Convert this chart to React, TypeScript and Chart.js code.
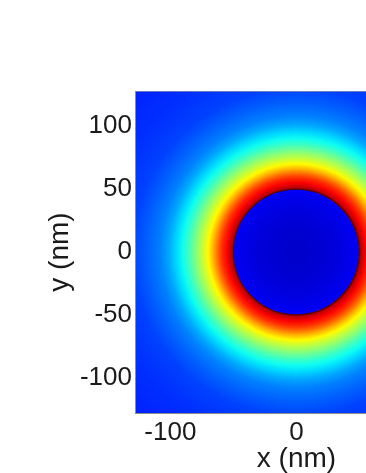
import React, { useEffect, useRef } from "react";
import { Chart, registerables } from "chart.js";

Chart.register(...registerables);

// Axis ticks (nm)
const xTickValues = [-100, 0, 100];
const yTickValues = [-100, -50, 0, 50, 100];
const axisMin = -128;
const axisMax = 128;

// Particle radius (nm)
const particleRadius = 50;

// Radial field profile outside the particle: radius (nm) -> normalized level (jet colormap)
const outerRadii = [50, 52, 55, 59, 63, 66, 70, 75, 80, 85, 90, 95, 101, 108, 118, 130, 150, 185];
const outerLevels = [0.97, 0.93, 0.88, 0.83, 0.76, 0.7, 0.63, 0.56, 0.5, 0.44, 0.39, 0.34, 0.29, 0.25, 0.22, 0.19, 0.172, 0.155];

// Radial field profile inside the particle
const innerRadii = [0, 10, 20, 30, 40, 46, 50];
const innerLevels = [0.075, 0.077, 0.082, 0.09, 0.1, 0.11, 0.125];

const FONT = "'Liberation Sans', Arial, sans-serif";
const TEXT = "#1a1a1a";

function jet(v: number): string {
  const c = (t: number) => Math.max(0, Math.min(1, t));
  const r = c(Math.min(4 * v - 1.5, -4 * v + 4.5));
  const g = c(Math.min(4 * v - 0.5, -4 * v + 3.5));
  const b = c(Math.min(4 * v + 0.5, -4 * v + 2.5));
  return `rgb(${Math.round(r * 255)},${Math.round(g * 255)},${Math.round(b * 255)})`;
}

const fieldPlugin = {
  id: "fieldMap",
  beforeDatasetsDraw(chart: any) {
    const { ctx, chartArea } = chart;
    const xs = chart.scales.x;
    const ys = chart.scales.y;
    const cx = xs.getPixelForValue(0);
    const cy = ys.getPixelForValue(0);
    const sx = xs.getPixelForValue(1) - cx;
    const sy = cy - ys.getPixelForValue(1);
    ctx.save();
    ctx.beginPath();
    ctx.rect(chartArea.left, chartArea.top, chartArea.right - chartArea.left, chartArea.bottom - chartArea.top);
    ctx.clip();
    ctx.translate(cx, cy);
    ctx.scale(sx, sy);

    const R = outerRadii[outerRadii.length - 1];
    const g = ctx.createRadialGradient(0, 0, 0, 0, 0, R);
    g.addColorStop(0, jet(outerLevels[0]));
    outerRadii.forEach((r, i) => g.addColorStop(r / R, jet(outerLevels[i])));
    ctx.fillStyle = g;
    ctx.fillRect(-400, -400, 800, 800);

    const Ri = particleRadius;
    const gi = ctx.createRadialGradient(0, 0, 0, 0, 0, Ri);
    innerRadii.forEach((r, i) => gi.addColorStop(r / Ri, jet(innerLevels[i])));
    ctx.beginPath();
    ctx.arc(0, 0, Ri, 0, Math.PI * 2);
    ctx.fillStyle = gi;
    ctx.fill();
    ctx.lineWidth = 1.3 / sx;
    ctx.strokeStyle = "rgb(95,0,0)";
    ctx.stroke();
    ctx.restore();

    // faint top frame line
    ctx.save();
    ctx.strokeStyle = "rgba(150,150,170,0.7)";
    ctx.lineWidth = 1;
    ctx.beginPath();
    ctx.moveTo(chartArea.left, chartArea.top + 0.5);
    ctx.lineTo(chartArea.right, chartArea.top + 0.5);
    ctx.stroke();
    ctx.restore();
  },
};

export default function App() {
  const canvasRef = useRef<HTMLCanvasElement | null>(null);

  useEffect(() => {
    const canvas = canvasRef.current;
    if (!canvas) return;
    const chart = new Chart(canvas, {
      type: "scatter",
      data: { datasets: [{ data: [], pointRadius: 0 }] },
      options: {
        animation: false,
        responsive: false,
        events: [],
        layout: { padding: { left: 0, top: 91, right: 12, bottom: 0 } },
        plugins: { legend: { display: false }, tooltip: { enabled: false } },
        scales: {
          x: {
            type: "linear",
            min: axisMin,
            max: axisMax,
            afterBuildTicks: (s: any) => {
              s.ticks = xTickValues.map((v) => ({ value: v }));
            },
            afterFit: (s: any) => {
              s.height = 60;
            },
            grid: { display: false, drawTicks: false },
            border: { display: true, color: "#8c8c8c", width: 1, z: 1 },
            ticks: {
              font: { family: FONT, size: 26 },
              color: TEXT,
              padding: 4,
              maxRotation: 0,
              autoSkip: false,
            },
            title: {
              display: true,
              text: "x (nm)",
              font: { family: FONT, size: 28, lineHeight: 1 },
              color: TEXT,
              padding: { top: 0, bottom: 0 },
            },
          },
          y: {
            type: "linear",
            min: axisMin,
            max: axisMax,
            afterBuildTicks: (s: any) => {
              s.ticks = yTickValues.map((v) => ({ value: v }));
            },
            afterFit: (s: any) => {
              s.width = 135;
            },
            grid: { display: false, drawTicks: false },
            border: { display: true, color: "#8c8c8c", width: 1, z: 1 },
            ticks: {
              font: { family: FONT, size: 26 },
              color: TEXT,
              padding: 3,
              autoSkip: false,
            },
            title: {
              display: true,
              text: "y (nm)",
              font: { family: FONT, size: 28, lineHeight: 1 },
              color: TEXT,
              padding: { top: 46, bottom: 0 },
            },
          },
        },
      } as any,
      plugins: [fieldPlugin],
    });
    return () => chart.destroy();
  }, []);

  return (
    <div
      style={{
        position: "absolute",
        left: 0,
        top: 0,
        width: 366,
        height: 473,
        overflow: "hidden",
        background: "#fff",
      }}
    >
      <canvas ref={canvasRef} width={470} height={473} style={{ width: 470, height: 473, display: "block" }} />
    </div>
  );
}
